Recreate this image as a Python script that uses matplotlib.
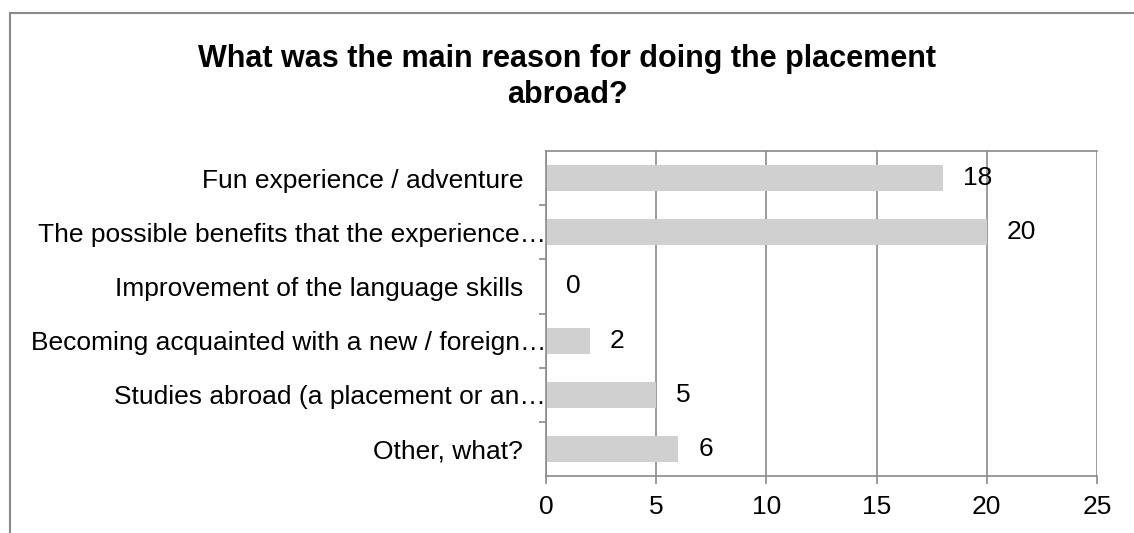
import matplotlib
matplotlib.use("Agg")
import matplotlib.pyplot as plt
from matplotlib.lines import Line2D
from matplotlib.transforms import ScaledTranslation

# Survey answers, listed top to bottom as in the chart
categories = [
    "Fun experience / adventure",
    "The possible benefits that the experience\u2026",
    "Improvement of the language skills",
    "Becoming acquainted with a new / foreign\u2026",
    "Studies abroad (a placement or an\u2026",
    "Other, what?",
]
counts = [18, 20, 0, 2, 5, 6]
x_ticks = [0, 5, 10, 15, 20, 25]

plt.rcParams["font.family"] = ["Liberation Sans", "DejaVu Sans"]
grey = "#8a8a8a"
fs = 19

fig = plt.figure(figsize=(11.34, 5.33), dpi=100)
ax = fig.add_axes([546 / 1134, 1 - 476 / 533, (1097 - 546) / 1134, (476 - 151) / 533])

pos = list(range(len(categories)))
ax.barh(pos, counts, height=0.48, color="#d0d0d0", zorder=2)
ax.set_ylim(len(categories) - 0.5, -0.5)
ax.set_xlim(0, 25)
ax.set_xticks(x_ticks)

# category labels as major ticks (no mark), boundary marks as minor ticks
ax.set_yticks(pos)
ax.set_yticklabels(categories, fontsize=fs)
ax.set_yticks([p + 0.5 for p in pos[:-1]], minor=True)
ax.tick_params(axis="y", which="major", length=0, pad=16.5)
ax.tick_params(axis="y", which="minor", length=5, color=grey, width=1.2)
ax.tick_params(axis="x", length=6, color=grey, width=1.2, pad=8, labelsize=fs)

# truncated labels sit right against the axis
shift = ScaledTranslation(16.5 / 72, 0, fig.dpi_scale_trans)
for lab in ax.get_yticklabels():
    if lab.get_text().endswith("\u2026"):
        lab.set_transform(lab.get_transform() + shift)

ax.grid(axis="x", color=grey, lw=1.2, zorder=0)
for s in ax.spines.values():
    s.set_color(grey)
    s.set_linewidth(1.2)
ax.spines["right"].set_visible(False)

for p, v in zip(pos, counts):
    ax.annotate(str(v), (v, p), xytext=(14.4, 0), textcoords="offset points",
                va="center", ha="left", fontsize=fs)

fig.text(0.5, 1 - 44 / 533, "What was the main reason for doing the placement\nabroad?",
         ha="center", va="top", fontsize=22, fontweight="bold", linespacing=1.25)

# outer chart frame (cut off on the right and bottom)
x0, y0 = 10 / 1134, 1 - 13 / 533
fig.add_artist(Line2D([x0, 1.0], [y0, y0], transform=fig.transFigure, color=grey, lw=1.5))
fig.add_artist(Line2D([x0, x0], [y0, 0.0], transform=fig.transFigure, color=grey, lw=1.5))

fig.savefig("out.png", dpi=100)
